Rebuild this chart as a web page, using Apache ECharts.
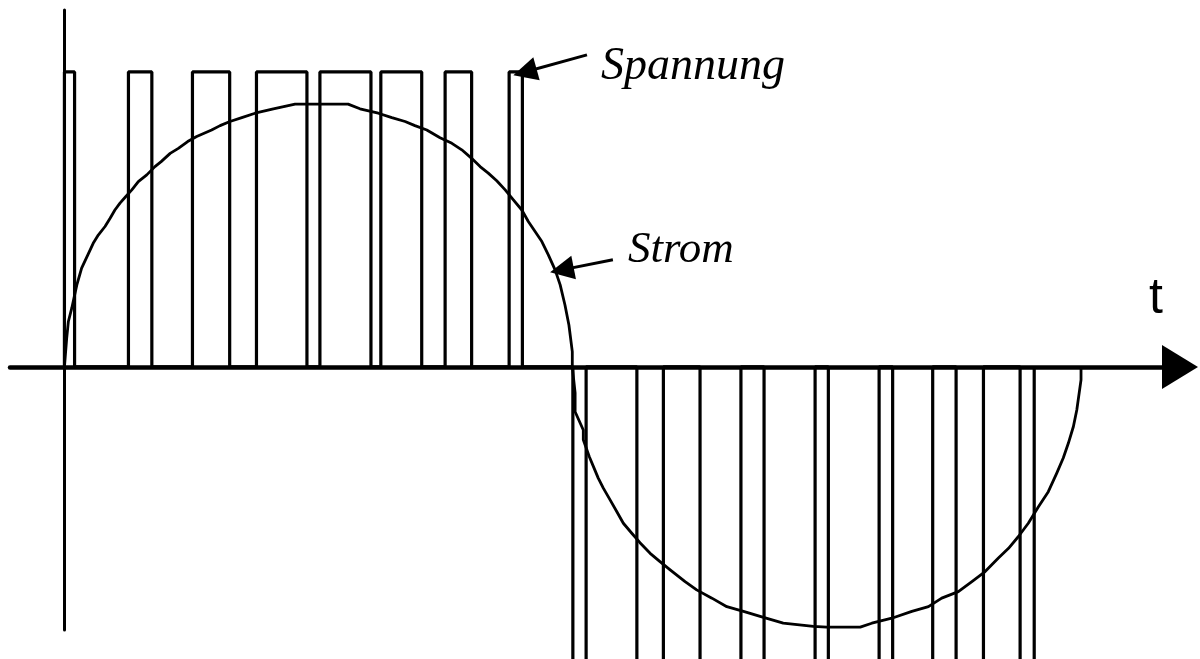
<!DOCTYPE html>
<html>
<head>
<meta charset="utf-8">
<script src="https://cdn.jsdelivr.net/npm/echarts@6/dist/echarts.min.js"></script>
<style>
  html, body { margin:0; padding:0; background:#fff; }
  #main { width:1200px; height:659px; }
</style>
</head>
<body>
<div id="main"></div>
<script>
// Phasenwinkel in Grad, Spannung normiert auf 1
const spannungLevel = 1;
const posStart = [0, 22.7, 45.4, 68.1, 90.6, 112.2, 135.0, 157.7];
const posEnd   = [3.6, 31.0, 58.6, 86.0, 108.7, 126.7, 144.4, 162.4];
const negStart = [180.3, 203.0, 225.4, 248.1, 270.9, 293.7, 316.2, 338.9];
const negEnd   = [185.0, 212.4, 239.9, 266.2, 288.9, 307.9, 325.9, 343.9];

// Strom
const stromT = [0, 0.8, 1.4, 2.6, 4.4, 6.1, 8.3, 10.2, 12.0, 14.4, 16.2, 17.9, 19.7, 21.7, 23.9, 26.2,
  29.2, 32.1, 34.3, 37.5, 40.4, 43.7, 46.9, 52.2, 55.2, 58.7, 62.9, 67.6, 74.1, 81.8, 88.9, 100.6,
  104.8, 111.3, 116.1, 120.8, 124.3, 128.5, 133.2, 137.4, 140.9, 144.4, 147.4, 150.3, 153.3, 156.3,
  159.2, 162.2, 164.5, 166.9, 169.3, 171.6, 174.0, 175.8, 177.5, 178.9, 180.1, 180.1,
  181.1, 181.1, 184.0, 184.0, 186.1, 187.6, 189.3, 191.1, 193.5, 195.9, 198.2, 201.2, 204.1, 207.7,
  211.2, 214.8, 220.1, 224.2, 229.6, 234.9, 240.8, 246.7, 254.9, 265.6, 270.3, 282.2, 286.3, 293.4,
  300.5, 306.4, 311.1, 317.0, 321.8, 326.5, 331.2, 334.8, 338.3, 341.8, 345.4, 348.9, 351.9, 354.2,
  356.0, 357.8, 359.0, 360.5, 360.5];
const stromI = [0, 0.097, 0.154, 0.199, 0.278, 0.335, 0.380, 0.419, 0.447, 0.476, 0.504, 0.532, 0.555, 0.577, 0.600, 0.628,
  0.651, 0.679, 0.696, 0.724, 0.741, 0.764, 0.781, 0.803, 0.818, 0.832, 0.845, 0.860, 0.875, 0.891, 0.891, 0.891,
  0.875, 0.860, 0.845, 0.832, 0.818, 0.803, 0.777, 0.758, 0.736, 0.707, 0.679, 0.657, 0.631, 0.600,
  0.566, 0.532, 0.493, 0.459, 0.425, 0.380, 0.329, 0.278, 0.210, 0.142, 0.052, 0,
  -0.088, -0.152, -0.214, -0.247, -0.304, -0.338, -0.377, -0.411, -0.451, -0.491, -0.530, -0.564, -0.596, -0.632,
  -0.660, -0.688, -0.728, -0.756, -0.784, -0.813, -0.829, -0.846, -0.869, -0.880, -0.882, -0.882, -0.869, -0.852,
  -0.829, -0.813, -0.784, -0.762, -0.728, -0.694, -0.648, -0.615, -0.575, -0.530, -0.474, -0.423, -0.360, -0.309,
  -0.259, -0.202, -0.146, -0.044, 0];

// Pfeile zu den Beschriftungen
const spannungArrow = [[185.3, 1.058], [163.3, 1.0]];
const stromArrow = [[194.5, 0.363], [176.4, 0.329]];

let myChart = echarts.init(document.getElementById('main'));

// Pulsfolge als Polylinie
let pulse = [];
posStart.forEach((s, i) => {
    pulse.push([s, 0], [s, spannungLevel], [posEnd[i], spannungLevel], [posEnd[i], 0]);
});
negStart.forEach((s, i) => {
    pulse.push([s, 0], [s, -spannungLevel], [negEnd[i], -spannungLevel], [negEnd[i], 0]);
});

myChart.setOption({
    animation:false,
    backgroundColor:"#fff",
    grid:{ left:10, right:20, top:10, bottom:29 },
    xAxis:{
        type:"value",
        min:-19.3,
        max:395.6,
        axisLine:{
            onZero:true,
            symbol:["none","triangle"],
            symbolSize:[44, 36],
            lineStyle:{ color:"#000", width:4.5 }
        },
        axisTick:{ show:false },
        axisLabel:{ show:false },
        splitLine:{ show:false }
    },
    yAxis:{
        type:"value",
        min:-0.892,
        max:1.21,
        axisLine:{
            show:true,
            onZero:true,
            lineStyle:{ color:"#000", width:3 }
        },
        axisTick:{ show:false },
        axisLabel:{ show:false },
        splitLine:{ show:false }
    },
    series:[
        {
            name:"Spannung",
            type:"line",
            data:pulse,
            showSymbol:false,
            clip:false,
            lineStyle:{ color:"#000", width:3.2 },
            markLine:{
                silent:true,
                symbol:["none","triangle"],
                symbolSize:[24, 24],
                label:{ show:false },
                lineStyle:{ color:"#000", width:3, type:"solid" },
                data:[
                    [{ coord:spannungArrow[0] }, { coord:spannungArrow[1] }],
                    [{ coord:stromArrow[0] }, { coord:stromArrow[1] }]
                ]
            }
        },
        {
            name:"Strom",
            type:"line",
            data:stromT.map((t, i) => [t, stromI[i]]),
            showSymbol:false,
            clip:false,
            lineStyle:{ color:"#000", width:2.8, join:"round" }
        }
    ],
    graphic:[
        {
            type:"text", left:601, top:44,
            style:{ text:"Spannung", font:"italic 46px 'Liberation Serif'", fill:"#000" }
        },
        {
            type:"text", left:628, top:228,
            style:{ text:"Strom", font:"italic 45px 'Liberation Serif'", fill:"#000" }
        },
        {
            type:"text", left:1149, top:274,
            style:{ text:"t", font:"50px 'Liberation Sans'", fill:"#000" }
        }
    ]
});
</script>
</body>
</html>
